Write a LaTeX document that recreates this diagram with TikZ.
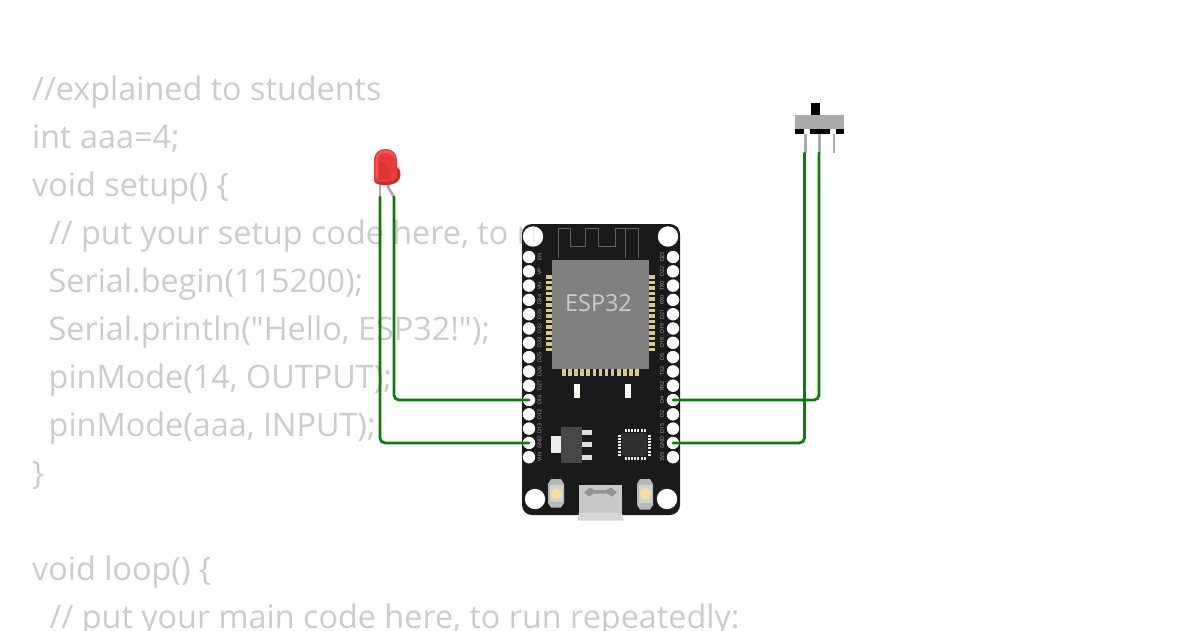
\documentclass[tikz,border=0pt]{standalone}
\usepackage{fontspec}
\setmainfont{Open Sans}[Ligatures=TeXOff]
\usetikzlibrary{calc}
\definecolor{codegrey}{HTML}{CCCCCC}
\definecolor{boardblack}{HTML}{1A1A1A}
\definecolor{chipgrey}{HTML}{808080}
\definecolor{padgold}{HTML}{D8CB7E}
\definecolor{wiregreen}{HTML}{0A7D0A}
\definecolor{leadgrey}{HTML}{ABABAB}
\definecolor{silk}{HTML}{ABABAB}
\definecolor{ledbody}{HTML}{EB3A3A}
\definecolor{ledlight}{HTML}{F25A5A}
\definecolor{ledrim}{HTML}{C62A2A}
\definecolor{ledcore}{HTML}{D63636}
\definecolor{btnbody}{HTML}{B8B8B8}
\definecolor{btnface}{HTML}{D2D2D2}
\definecolor{btnlight}{HTML}{F6DE9C}
\tikzset{
  codeline/.style={anchor=base west,inner sep=0pt,text=codegrey,font=\fontsize{32.35}{32}\selectfont},
  wire/.style={draw=wiregreen,line width=2.8pt,rounded corners=5pt,line cap=round},
  lead/.style={draw=leadgrey,line width=2.6pt},
  pinhole/.style={circle,fill=white,inner sep=0pt,minimum size=12.4pt},
  mounthole/.style={circle,fill=white,inner sep=0pt,minimum size=20.4pt},
  pinlabel/.style={rotate=90,inner sep=0pt,text=silk,font=\fontsize{5.3}{5.3}\selectfont},
  pad/.style={fill=padgold,draw=none},
  qfndot/.style={fill=white!92!black,draw=none},
}
\begin{document}
\begin{tikzpicture}[x=1pt,y=-1pt]
\useasboundingbox (0,0) rectangle (1200,630);
\clip (0,0) rectangle (1200,630);
\fill[white] (0,0) rectangle (1200,630);
% code
\node[codeline] (c1) at (32,100) {//explained to students};
\node[codeline] (c2) at (32,148) {int aaa=4;};
\node[codeline] (c3) at (32,196) {void setup() \{};
\node[codeline] (c4) at (48.8,244) {// put your setup code here, to ru};
\node[codeline] (c5) at (48.5,292) {Serial.begin(115200);};
\node[codeline] (c6) at (48.5,340) {Serial.println("Hello, ESP32!");};
\node[codeline] (c7) at (48.5,388) {pinMode(14, OUTPUT);};
\node[codeline] (c8) at (48.5,436) {pinMode(aaa, INPUT);};
\node[codeline] (c9) at (32,484) {\}};
\node[codeline] (c10) at (32,580) {void loop() \{};
\node[codeline] (c11) at (49.5,628) {// put your main code here, to run repeatedly:};
% board
\fill[boardblack,rounded corners=10pt] (522,224) rectangle (680,515);
\node[mounthole] (h1) at (533,236.5) {};
\node[mounthole] (h2) at (668,236.5) {};
\node[mounthole] (h3) at (535,499) {};
\node[mounthole] (h4) at (667,499) {};
\begin{scope}
  \clip (h1.center) circle (10.2pt);
  \node[codeline,opacity=.22] at (48.8,244) {// put your setup code here, to ru};
\end{scope}
% antenna
\draw[draw=white!38!black,line width=.9pt] (558,258) -- (558,228) -- (570,228) -- (570,246) -- (585,246) -- (585,228) -- (598,228) -- (598,246) -- (615,246) -- (615,228) -- (638,228) -- (638,258);
\draw[draw=white!38!black,line width=.9pt] (625,228) -- (625,258);
% pins
\foreach \lab [count=\i from 0] in {EN,VP,VN,D34,D35,D32,D33,D25,D26,D27,D14,D12,D13,GND,VIN}{
  \node[pinhole] (L\lab) at (529,257+14.3*\i) {};
  \node[pinlabel] (LT\lab) at (539.5,257+14.3*\i) {\lab};
}
\foreach \lab [count=\i from 0] in {D23,D22,TX0,RX0,D21,D19,D18,D5,TX2,RX2,D4,D2,D15,GND,3V3}{
  \node[pinhole] (R\lab) at (673,257+14.3*\i) {};
  \node[pinlabel] (RT\lab) at (662,257+14.3*\i) {\lab};
}
% ESP chip pads
\foreach \i in {0,...,13}{
  \fill[pad] (546,275+5.6*\i) rectangle (552,278.6+5.6*\i);
  \fill[pad] (649,275+5.6*\i) rectangle (655,278.6+5.6*\i);
}
\foreach \i in {0,...,12}{
  \fill[pad] (562+6.1*\i,369) rectangle (565.6+6.1*\i,375.5);
}
\fill[chipgrey] (552,260) rectangle (649,369);
\node[inner sep=0pt,text=codegrey,font=\fontsize{23.4}{23}\selectfont] (esp) at (598.5,303) {ESP32};
% small parts under chip
\fill[white!90!padgold] (574,384) rectangle (580,398);
\fill[white!90!padgold] (625,384) rectangle (631,398);
% regulator
\fill[white!93!black] (551,436) rectangle (561,453);
\fill[white!87!black] (582,430) rectangle (591.5,434.5);
\fill[white!87!black] (582,442) rectangle (591.5,446.5);
\fill[white!87!black] (582,455) rectangle (591.5,459.5);
\fill[white!28!black] (561,427) rectangle (582,463);
% QFN
\fill[white!19!black] (623.5,433) -- (645,433) -- (647,435) -- (647,454) -- (645,456) -- (623.5,456) -- (621.5,454) -- (621.5,435) -- cycle;
\foreach \i in {0,...,6}{
  \fill[qfndot] (625+3.1*\i,428.8) rectangle (627+3.1*\i,431.6);
  \fill[qfndot] (625+3.1*\i,457.2) rectangle (627+3.1*\i,460);
  \fill[qfndot] (618,435+3.1*\i) rectangle (620.8,437+3.1*\i);
  \fill[qfndot] (648.2,435+3.1*\i) rectangle (651,437+3.1*\i);
}
% buttons
\fill[btnbody] (551,479) -- (561,479) -- (564,484) -- (564,503) -- (561,507.5) -- (551,507.5) -- (548,503) -- (548,484) -- cycle;
\fill[btnface] (549.5,485) rectangle (562.5,502);
\fill[btnlight] (556.7,494) circle (5.6pt);
\fill[btnbody] (640,479) -- (650,479) -- (653,484) -- (653,505) -- (650,509.5) -- (640,509.5) -- (637,505) -- (637,484) -- cycle;
\fill[btnface] (638.5,485) rectangle (651.5,503);
\fill[btnlight] (645.5,493.5) circle (5.6pt);
% USB
\fill[white!79!black] (579,485) rectangle (622,513);
\fill[white!84!black] (579,513) -- (622,513) -- (623.5,520.5) -- (577.5,520.5) -- cycle;
\fill[white!58!black] (584,492.5) -- (590,487.5) -- (595,490) -- (606,490) -- (611,487.5) -- (617,492.5) -- (612,496.5) -- (607,493.5) -- (594,493.5) -- (589,496.5) -- cycle;
% LED
\coordinate (ledA) at (380,197);
\coordinate (ledB) at (394,197);
\draw[lead] (380,182) -- (ledA);
\draw[lead] (388,182) -- (388,187) -- (ledB);
\fill[ledrim] (396,166) .. controls (399,168) and (400.5,170) .. (400.5,175) .. controls (400.5,181) and (395,185) .. (386,185) .. controls (379,185) and (374,184) .. (374,180) -- cycle;
\fill[ledbody] (374,180) -- (374,160) .. controls (374,153) and (379,149) .. (385.5,149) .. controls (392,149) and (397,153) .. (397,160) -- (397,177) .. controls (397,180) and (392,182) .. (385,182) .. controls (379,182) and (374,182) .. (374,180) -- cycle;
\fill[ledlight] (375.5,178) -- (375.5,160) .. controls (375.5,154) and (380,150.5) .. (385.5,150.5) .. controls (391,150.5) and (395.5,154) .. (395.5,160) .. controls (393,154.5) and (390,153) .. (385.5,153) .. controls (381,153) and (378,155) .. (377.5,160) -- (377.5,178) -- cycle;
\fill[ledcore] (379,162) rectangle (390,179);
\fill[ledbody] (390,162) -- (390,171) -- (383,162) -- cycle;
% switch
\coordinate (swA) at (804.5,153);
\coordinate (swB) at (819,153);
\coordinate (swC) at (834,153);
\draw[lead] (805.5,134) -- (805.5,153);
\draw[lead] (819.3,134) -- (819.3,153);
\draw[lead] (swC) -- (834,134);
\fill[black] (811,103) rectangle (820,115);
\fill[white!67!black] (795,115) rectangle (844,129);
\fill[black] (795,129) rectangle (804,134);
\fill[black] (810,129) rectangle (830,134);
\fill[black] (836,129) rectangle (844,134);
% wires
\draw[wire] (ledB) |- (LD14.center);
\draw[wire] (ledA) |- (LGND.center);
\draw[wire] (swB) |- (RD4.center);
\draw[wire] (swA) |- (RGND.center);
\end{tikzpicture}
\end{document}
